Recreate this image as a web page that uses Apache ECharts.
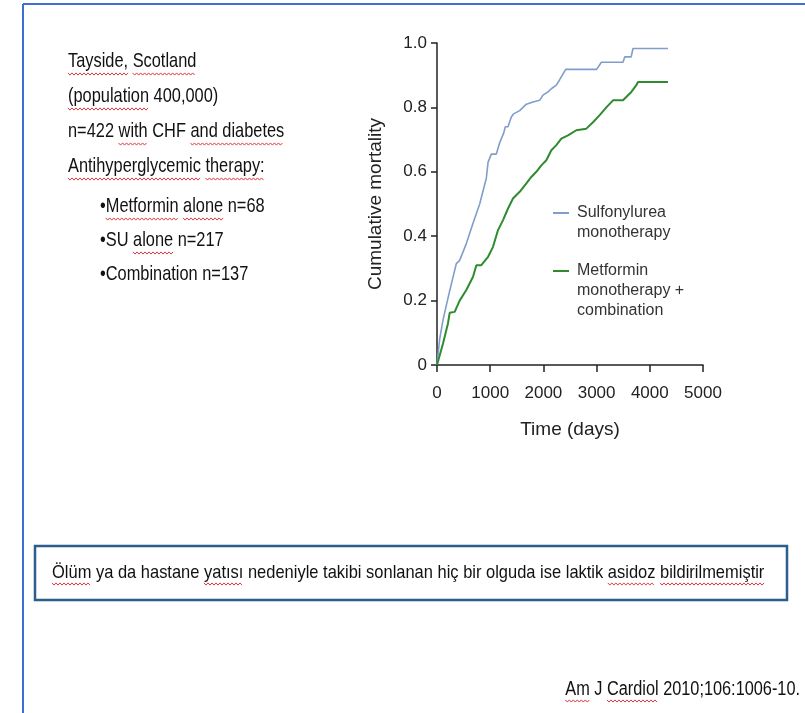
<!DOCTYPE html>
<html>
<head>
<meta charset="utf-8">
<script src="https://cdn.jsdelivr.net/npm/echarts@6/dist/echarts.min.js"></script>
<style>
html,body{margin:0;padding:0;background:#ffffff;}
#chart{width:805px;height:713px;}
</style>
</head>
<body>
<div id="chart"></div>
<script>
// ---- data ----
var suTime = [0, 50, 113, 238, 363, 426, 551, 677, 802, 927, 960, 1021, 1115, 1178, 1253, 1285, 1335, 1397, 1441, 1554, 1680, 1805, 1930, 1992, 2086, 2149, 2243, 2306, 2419, 3000, 3090, 3496, 3530, 3650, 3684, 4342];
var suMortality = [0, 0.08, 0.14, 0.23, 0.315, 0.325, 0.377, 0.44, 0.50, 0.58, 0.63, 0.655, 0.655, 0.69, 0.72, 0.74, 0.74, 0.77, 0.78, 0.79, 0.81, 0.817, 0.822, 0.838, 0.848, 0.858, 0.869, 0.886, 0.918, 0.918, 0.94, 0.94, 0.957, 0.957, 0.983, 0.983];
var metTime = [0, 113, 207, 238, 332, 426, 551, 677, 740, 833, 960, 1053, 1147, 1241, 1335, 1428, 1554, 1680, 1773, 1867, 1961, 2055, 2149, 2243, 2337, 2462, 2619, 2807, 2932, 3058, 3183, 3308, 3496, 3653, 3747, 3778, 4342];
var metMortality = [0, 0.067, 0.13, 0.162, 0.165, 0.2, 0.233, 0.274, 0.31, 0.31, 0.336, 0.367, 0.419, 0.45, 0.486, 0.517, 0.538, 0.564, 0.584, 0.60, 0.62, 0.636, 0.667, 0.683, 0.703, 0.713, 0.729, 0.734, 0.754, 0.776, 0.80, 0.822, 0.822, 0.848, 0.869, 0.879, 0.879];
var seriesNames = ['Sulfonylurea\nmonotherapy', 'Metformin\nmonotherapy +\ncombination'];
var infoLines = ['Tayside, Scotland', '(population 400,000)', 'n=422 with CHF and diabetes', 'Antihyperglycemic therapy:'];
var bulletLines = ['\u2022Metformin alone n=68', '\u2022SU alone n=217', '\u2022Combination n=137'];
var noteText = 'Ölüm ya da hastane yatısı nedeniyle takibi sonlanan hiç bir olguda ise laktik asidoz bildirilmemiştir';
var citation = 'Am J Cardiol 2010;106:1006-10.';

function pairs(xs, ys){ return xs.map(function(x,i){ return [x, ys[i]]; }); }

var sans = '"Liberation Sans", Arial, Helvetica, sans-serif';
var measureCtx = document.createElement('canvas').getContext('2d');
function textW(str, font){ measureCtx.font = font; return measureCtx.measureText(str).width; }

var graphics = [];
// slide frame
graphics.push({type:'line', shape:{x1:23,y1:4,x2:805,y2:4}, style:{stroke:'#3b6fd6', lineWidth:2}, silent:true});
graphics.push({type:'line', shape:{x1:23,y1:4,x2:23,y2:713}, style:{stroke:'#3b6fd6', lineWidth:2}, silent:true});

// spell-check style squiggle under selected words
function squiggle(x0, y0, w){
  var pts = [], step = 2, up = true;
  for (var x = 0; x <= w; x += step){ pts.push([x0 + x, y0 + (up ? -1.1 : 1.1)]); up = !up; }
  graphics.push({type:'polyline', shape:{points:pts}, style:{stroke:'#dc3c44', lineWidth:1, fill:null}, silent:true});
}
// condensed text (scaled horizontally) with optional underlined words
function condText(str, x, y, size, sx, words, align){
  var font = size + 'px ' + sans;
  graphics.push({type:'text', x:x, y:y, scaleX:sx,
    style:{text:str, font:font, fill:'#111', align:align || 'left', verticalAlign:'top'}});
  var full = textW(str, font) * sx;
  var startX = align === 'right' ? x - full : x;
  (words || []).forEach(function(wd){
    var idx = str.indexOf(wd);
    if (idx < 0) return;
    var pre = textW(str.slice(0, idx), font) * sx;
    var ww = textW(wd, font) * sx;
    squiggle(startX + pre, y + size + 2, ww);
  });
}

var infoWords = [['Tayside,', 'Scotland'], ['(population'], ['with', 'and diabetes'], ['Antihyperglycemic', 'therapy:']];
infoLines.forEach(function(t,i){ condText(t, 68, 51 + i*35, 21, 0.78, infoWords[i]); });
var bulletWords = [['Metformin', 'alone'], ['alone'], []];
bulletLines.forEach(function(t,i){ condText(t, 100, 196 + i*34, 21, 0.78, bulletWords[i]); });

// legend
var legendColors = ['#7f9ecb', '#2e8b2e'];
var legendY = [213, 271];
seriesNames.forEach(function(n,i){
  graphics.push({type:'line', shape:{x1:553,y1:legendY[i],x2:569,y2:legendY[i]}, style:{stroke:legendColors[i], lineWidth:2}});
  graphics.push({type:'text', left:577, top:legendY[i]-10, style:{text:n, font:'16px ' + sans, fill:'#333', lineHeight:20}});
});

// note box
graphics.push({type:'rect', shape:{x:35,y:546,width:752,height:54}, style:{fill:'#ffffff', stroke:'#2b5e8c', lineWidth:2.5}});
condText(noteText, 52, 563, 19, 0.867, ['Ölüm', 'yatısı', 'asidoz', 'bildirilmemiştir']);
// citation
condText(citation, 800, 679, 20, 0.815, ['Am', 'Cardiol'], 'right');

var chart = echarts.init(document.getElementById('chart'));
chart.setOption({
  backgroundColor:'#ffffff',
  animation:false,
  grid:{left:437, top:43, right:102, bottom:348},
  xAxis:{
    type:'value', min:0, max:5000, interval:1000,
    name:'Time (days)', nameLocation:'middle', nameGap:55,
    nameTextStyle:{fontFamily:sans, fontSize:19, color:'#222'},
    axisLine:{show:true, lineStyle:{color:'#222', width:1.5}},
    axisTick:{show:true, inside:false, length:7, lineStyle:{color:'#222', width:1.5}},
    axisLabel:{fontFamily:sans, fontSize:17, color:'#222', margin:20,
      formatter:function(v){ return String(v); }},
    splitLine:{show:false}
  },
  yAxis:{
    type:'value', min:0, max:1, interval:0.2,
    name:'Cumulative mortality', nameLocation:'middle', nameGap:52,
    nameTextStyle:{fontFamily:sans, fontSize:19, color:'#222'},
    axisLine:{show:true, lineStyle:{color:'#222', width:1.5}},
    axisTick:{show:true, inside:false, length:6, lineStyle:{color:'#222', width:1.5}},
    axisLabel:{fontFamily:sans, fontSize:17, color:'#222', margin:10,
      formatter:function(v){ return v===0 ? '0' : v.toFixed(1); }},
    splitLine:{show:false}
  },
  series:[
    {name:seriesNames[0], type:'line', data:pairs(suTime, suMortality), symbol:'none',
     lineStyle:{color:legendColors[0], width:1.6}, itemStyle:{color:legendColors[0]}},
    {name:seriesNames[1], type:'line', data:pairs(metTime, metMortality), symbol:'none',
     lineStyle:{color:legendColors[1], width:2}, itemStyle:{color:legendColors[1]}}
  ],
  graphic:graphics
});
</script>
</body>
</html>
